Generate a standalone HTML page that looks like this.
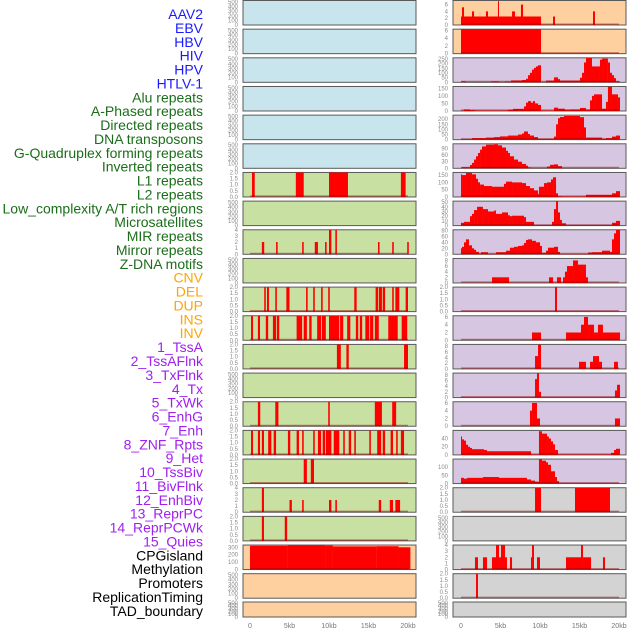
<!DOCTYPE html>
<html><head><meta charset="utf-8">
<style>
html,body{margin:0;padding:0;background:#fff;}
svg{display:block;font-family:"Liberation Sans",sans-serif;}
</style></head>
<body>
<svg id="chart" width="630" height="630" viewBox="0 0 630 630"></svg>
<script>
const labels=["AAV2","EBV","HBV","HIV","HPV","HTLV-1","Alu repeats","A-Phased repeats","Directed repeats","DNA transposons","G-Quadruplex forming repeats","Inverted repeats","L1 repeats","L2 repeats","Low_complexity A/T rich regions","Microsatellites","MIR repeats","Mirror repeats","Z-DNA motifs","CNV","DEL","DUP","INS","INV","1_TssA","2_TssAFlnk","3_TxFlnk","4_Tx","5_TxWk","6_EnhG","7_Enh","8_ZNF_Rpts","9_Het","10_TssBiv","11_BivFlnk","12_EnhBiv","13_ReprPC","14_ReprPCWk","15_Quies","CPGisland","Methylation","Promoters","ReplicationTiming","TAD_boundary"];
const labelGroups=[6,13,5,15,5];
const groupColors=["#1a1aff","#1a6e1a","#ffa500","#a020f0","#000000"];
const xTicks=[0,5,10,15,20];
const xTickLabels=["0","5kb","10kb","15kb","20kb"];

const emptyTicks=[0,100,200,300,400,500];
const t2=[0,0.5,1,1.5,2];
const t4=[0,1,2,3,4];
const t6=[0,2,4,6];
const t8=[0,2,4,6,8];

const L7=[[0.25,0.6,2],[5.8,6.8,2],[10.0,12.4,2],[19.1,19.7,2]];
const L9=[[1.5,1.8,2],[3.3,3.5,2],[6.6,6.8,2],[8.2,8.6,2],[9.5,9.7,2],[10.0,10.3,4],[10.8,11.0,4],[16.2,16.4,2],[18.0,18.2,2],[19.9,20.1,2]];
const L11=[[1.8,2.0,2],[2.15,2.4,2],[3.2,3.4,2],[4.6,5.0,2],[7.1,7.3,2],[8.0,8.2,2],[9.0,9.2,2],[9.9,10.1,2],[13.2,13.5,2],[15.9,16.2,2],[16.3,16.7,2],[16.8,17.1,2],[18.0,18.2,2],[18.4,18.9,2],[19.7,20.0,2]];
const L12=[[0.13,0.38,2],[1.0,1.27,2],[2.0,2.3,2],[2.9,3.3,2],[3.4,3.7,2],[5.9,6.6,2],[6.8,7.2,2],[7.5,7.8,2],[8.5,9.0,2],[9.1,9.6,2],[10.0,11.3,2],[11.4,11.8,2],[12.3,12.7,2],[13.4,13.7,2],[13.9,14.2,2],[14.6,15.1,2],[15.2,15.6,2],[15.8,16.3,2],[17.5,18.7,2],[19.2,19.9,2]];
const L13=[[11.0,11.5,2],[12.2,12.5,2],[19.5,20.0,2]];
const L15=[[1.0,1.3,2],[3.2,3.6,2],[9.9,10.1,2],[15.8,16.7,2],[18.0,18.5,2]];
const L16=[[0.13,0.38,2],[1.0,1.27,2],[1.5,1.77,2],[2.3,2.7,2],[3.0,3.3,2],[4.8,5.1,2],[5.9,6.2,2],[6.6,6.8,2],[8.0,8.2,2],[8.6,9.0,2],[9.2,9.5,2],[9.6,10.3,2],[10.6,11.3,2],[11.8,12.0,2],[12.5,12.8,2],[13.2,13.4,2],[15.1,15.3,2],[16.1,16.6,2],[16.8,17.1,2],[17.8,18.1,2],[18.5,18.7,2],[19.1,19.5,2]];
const L17=[[6.8,7.2,2],[7.7,8.1,2]];
const L18=[[1.5,1.77,4],[5.0,5.3,2],[6.6,6.8,2],[10.0,10.3,2],[10.8,11.0,2],[16.3,16.6,2],[17.7,18.1,2],[18.4,19.0,2]];
const L19=[[1.5,1.77,2],[4.4,4.7,2]];
const L20=[[0,4.8,320],[4.8,9.5,325],[9.5,10.5,322],[10.5,16,312],[16,18.8,314],[18.8,20.3,300]];

const R1=[[0,10.13,2.5],[0.13,0.38,5.2],[1.39,1.65,4],[3.16,3.42,4],[4.68,4.81,7],[6.46,6.84,4],[7.59,7.85,6],[11.65,11.9,2.5],[16.71,16.96,4]];
const R2=[[0,10.13,6.3]];
const R3=[[0,0.63,10],[3.8,4.81,10],[5.57,6.33,8],[6.33,7.72,20],[7.72,8.23,25],[8.23,8.48,38],[8.48,8.73,76],[8.73,8.99,102],[8.99,9.24,136],[9.24,9.49,155],[9.49,9.75,170],[9.75,10.13,182],[10.76,11.77,19],[11.77,12.28,53],[12.28,12.53,34],[12.53,15.06,19],[15.06,15.32,49],[15.32,15.57,102],[15.57,15.82,212],[15.82,16.58,265],[16.58,17.59,170],[17.59,17.85,242],[17.85,18.6,254],[18.6,18.86,212],[18.86,19.11,102],[19.11,19.37,76],[19.37,19.62,45],[19.62,20.13,11]];
const R4=[[0,0.38,3],[0.38,1.14,10],[1.14,1.77,6],[1.77,5.95,3],[5.95,6.58,8],[6.58,7.97,14],[7.97,8.23,30],[8.23,8.48,55],[8.48,8.86,65],[8.86,9.11,55],[9.11,9.37,65],[9.37,9.75,50],[9.75,10.13,40],[10.13,11.77,3],[11.77,12.28,22],[12.28,13.16,15],[13.16,13.8,8],[13.8,15.06,10],[15.06,15.82,20],[15.82,16.33,9],[16.33,16.58,70],[16.58,16.84,100],[16.84,17.85,110],[17.85,18.35,15],[18.35,18.6,60],[18.6,19.11,160],[19.11,19.87,110],[19.87,20.13,90]];
const R5=[[0,1.39,3],[1.39,3.16,15],[3.16,4.18,20],[4.18,4.94,25],[4.94,5.95,32],[5.95,7.22,40],[7.22,7.72,50],[7.72,7.97,60],[7.97,8.48,80],[8.48,8.73,55],[8.73,9.24,40],[9.24,9.75,25],[9.75,11.77,8],[11.77,12.03,30],[12.03,12.28,150],[12.28,12.53,210],[12.53,13.04,222],[13.04,15.06,232],[15.06,15.57,220],[15.57,15.82,120],[15.82,17.85,20],[17.85,18.35,8],[18.35,19.11,15],[19.11,19.62,30],[19.62,20.13,40]];
const R6=[[0,0.13,3],[0.13,1.14,5],[1.14,1.39,15],[1.39,1.65,25],[1.65,1.9,40],[1.9,2.15,55],[2.15,2.41,70],[2.41,2.66,85],[2.66,3.16,100],[3.16,4.18,108],[4.18,4.68,110],[4.68,5.19,105],[5.19,5.7,95],[5.7,5.95,80],[5.95,6.2,70],[6.2,6.71,55],[6.71,7.22,40],[7.22,7.72,30],[7.72,8.23,20],[8.23,8.48,12],[8.48,8.86,4],[10.89,11.27,8],[11.27,11.77,16],[11.77,12.28,18],[12.28,12.78,10]];
const R7=[[0,0.13,155],[0.13,0.63,150],[0.63,1.39,165],[1.39,1.9,155],[1.9,2.15,125],[2.15,2.41,100],[2.41,2.91,85],[2.91,3.92,75],[3.92,5.44,70],[5.44,5.7,90],[5.7,6.46,105],[6.46,7.72,100],[7.72,8.23,95],[8.23,8.73,75],[8.73,9.24,60],[9.24,9.75,45],[9.75,9.87,20],[9.87,10.51,70],[10.51,10.89,95],[10.89,11.39,100],[11.39,11.65,120],[11.65,12.03,135],[12.03,12.28,25],[12.28,12.78,5],[12.78,15.82,3],[15.82,19.11,15],[19.11,19.62,25],[19.62,20.13,40]];
const R8=[[0,0.38,6],[0.38,1.14,8],[1.14,1.39,20],[1.39,1.65,25],[1.65,2.03,33],[2.03,2.78,40],[2.78,3.42,35],[3.42,4.18,30],[4.18,4.43,32],[4.43,5.19,25],[5.19,5.95,28],[5.95,6.2,22],[6.2,6.46,20],[6.46,7.97,21],[7.97,8.23,18],[8.23,9.24,8],[9.24,11.52,1],[11.52,11.77,8],[11.77,12.03,35],[12.03,12.28,52],[12.28,12.53,28],[12.53,12.78,12],[12.78,13.29,5],[13.29,19.11,1],[19.11,19.62,6],[19.62,20.13,10]];
const R9=[[0,0.13,20],[0.13,0.38,25],[0.38,0.63,40],[0.63,1.01,50],[1.01,1.39,30],[1.39,1.65,20],[1.65,1.9,15],[1.9,2.28,8],[2.28,2.53,2],[2.53,3.42,7],[3.42,4.43,1],[4.43,5.7,7],[5.7,6.2,12],[6.2,6.71,22],[6.71,7.22,25],[7.22,7.72,28],[7.72,7.97,30],[7.97,8.23,38],[8.23,8.48,48],[8.48,8.99,50],[8.99,9.49,45],[9.49,10.0,40],[10.0,10.25,28],[10.25,10.76,5],[10.76,11.01,12],[11.01,11.77,22],[11.77,12.28,25],[12.28,12.53,8],[12.53,16.08,1],[16.08,16.58,6],[16.58,17.85,7],[17.85,18.86,12],[18.86,19.11,8],[19.11,19.37,50],[19.37,19.62,70],[19.62,20.13,82]];
const R10=[[3.92,6.08,2],[11.14,11.65,2],[12.15,12.66,2],[12.91,13.16,2],[13.16,13.42,4],[13.42,14.18,6],[14.18,14.81,8],[14.81,15.82,6.5],[15.82,16.08,2]];
const R11=[[11.9,12.15,2]];
const R12=[[8.99,10.13,2],[13.29,15.19,2],[15.19,15.57,4],[15.57,16.08,6],[16.08,16.84,4],[16.84,17.34,2],[17.34,17.97,4],[17.97,20.13,2]];
const R13=[[9.37,9.75,4.5],[9.75,10.13,8.5],[14.94,15.82,2.5],[16.33,16.71,2.5],[16.71,17.47,4.5],[17.47,17.85,2.5],[19.37,19.87,2.5]];
const R14=[[9.37,9.62,6.5],[9.62,9.87,8.5],[9.87,10.13,2],[19.49,19.75,2.5],[19.75,20.13,4.5]];
const R15=[[8.73,8.99,4],[8.99,9.62,6],[9.62,10.0,2],[19.49,20.13,2]];
const R16=[[0,0.13,45],[0.13,0.38,38],[0.38,0.63,35],[0.63,0.89,25],[0.89,1.14,20],[1.14,1.39,17],[1.39,2.91,14],[2.91,3.29,12],[3.29,8.86,9],[8.86,9.87,1],[9.87,10.25,58],[10.25,10.89,52],[10.89,11.14,45],[11.14,11.39,40],[11.39,11.65,33],[11.65,11.9,26],[11.9,12.28,12],[12.28,18.99,1],[18.99,19.37,5],[19.37,19.62,12],[19.62,20.13,15]];
const R17=[[0,0.38,35],[0.38,0.76,30],[0.76,2.78,35],[2.78,4.81,40],[4.81,8.35,35],[8.35,8.86,25],[8.86,9.37,18],[9.37,9.87,12],[9.87,10.25,150],[10.25,10.76,140],[10.76,11.01,130],[11.01,11.39,115],[11.39,11.9,75],[11.9,12.15,40],[12.15,12.41,15]];
const R18=[[9.37,10.13,2],[14.43,18.86,2]];
const R20=[[1.77,2.15,2],[2.78,3.29,2],[3.92,4.43,2],[4.43,4.81,4],[4.81,5.06,2],[5.06,5.57,4],[5.57,5.82,2],[6.2,6.46,2],[8.86,8.99,2],[8.99,9.24,4],[9.62,10.0,2],[13.29,15.19,2],[15.19,15.44,4],[15.44,16.46,2],[17.97,18.23,2]];
const R21=[[1.9,2.15,2]];

const BLUE="#c8e4ec",GREEN="#c8e1a3",ORANGE="#ffd09f",PURPLE="#d6c6e2",GRAY="#d3d3d3";
const leftPanels=[
[[],530,emptyTicks,BLUE],[[],530,emptyTicks,BLUE],[[],530,emptyTicks,BLUE],[[],530,emptyTicks,BLUE],[[],530,emptyTicks,BLUE],[[],530,emptyTicks,BLUE],
[L7,2,t2,GREEN],[[],530,emptyTicks,GREEN],[L9,4,t4,GREEN],[[],530,emptyTicks,GREEN],[L11,2,t2,GREEN],[L12,2,t2,GREEN],[L13,2,t2,GREEN],[[],530,emptyTicks,GREEN],[L15,2,t2,GREEN],[L16,2,t2,GREEN],[L17,2,t2,GREEN],[L18,4,t4,GREEN],[L19,2,t2,GREEN],
[L20,330,[0,100,200,300],ORANGE],[[],530,emptyTicks,ORANGE],[[],530,emptyTicks,ORANGE]];
const rightPanels=[
[R1,7.2,t6,ORANGE],[R2,6.3,t6,ORANGE],
[R3,262,[0,50,100,150,200,250],PURPLE],[R4,162,[0,50,100,150],PURPLE],[R5,240,[0,50,100,150,200],PURPLE],[R6,112,[0,30,60,90],PURPLE],[R7,168,[0,50,100,150],PURPLE],[R8,52,[0,10,20,30,40,50],PURPLE],[R9,82,[0,20,40,60,80],PURPLE],[R10,8.7,t8,PURPLE],[R11,2,t2,PURPLE],[R12,6.3,t6,PURPLE],[R13,8.6,t8,PURPLE],[R14,8.6,t8,PURPLE],[R15,6.3,t6,PURPLE],[R16,60,[0,20,40],PURPLE],[R17,150,[0,50,100],PURPLE],
[R18,2,t2,GRAY],[[],530,emptyTicks,GRAY],[R20,4,t4,GRAY],[R21,2,t2,GRAY],[[],530,emptyTicks,GRAY]];

const NS="http://www.w3.org/2000/svg";
const svg=document.getElementById('chart');
function mk(tag,attrs,parent){const e=document.createElementNS(NS,tag);for(const k in attrs)e.setAttribute(k,attrs[k]);(parent||svg).appendChild(e);return e;}

let gi=0,cnt=0;
labels.forEach((t,i)=>{
  while(cnt>=labelGroups[gi]){cnt-=labelGroups[gi];gi++;}
  cnt++;
  const e=mk('text',{x:203,y:14+i*13.88+5,'text-anchor':'end','font-size':14,fill:groupColors[gi]});
  e.textContent=t;
  
  
});

const KB=7.9;
function rowTop(k){return k<21?0.5+k*28.66:602;}
function rowH(k){return k<21?24.5:15;}
function fmt(v,ticks){const dec=ticks.some(t=>t%1!==0);return dec?v.toFixed(1):String(v);}

function drawCol(panels,x0,left,right,colName){
  panels.forEach((p,k)=>{
    const [segs,ymax,ticks,bg]=p;
    const top=rowTop(k),h=rowH(k),bot=top+h;
    const g=mk('g',{});
    
    
    const r=mk('rect',{x:left,y:top,width:right-left,height:h,fill:bg,stroke:'#5a5a5a','stroke-width':1},g);
    
    
    const xs=kb=>x0+kb*KB, ys=v=>bot-v/ymax*h;
    segs.forEach(s=>{
      const b=mk('rect',{x:xs(s[0]),y:ys(s[2]),width:Math.max(0.8,xs(s[1])-xs(s[0])),height:bot-ys(s[2]),fill:'#ff0000'},g);
      
      
    });
    if(segs.length){
      const bl=mk('line',{x1:xs(0),x2:xs(20),y1:bot-0.8,y2:bot-0.8,stroke:'rgba(139,0,0,0.45)','stroke-width':1.5},g);
      
      
    }
    ticks.forEach(t=>{
      const tx=mk('text',{x:left-5,y:ys(t)+2,'text-anchor':'end','font-size':6,fill:'#8a8a8a'},g);
      tx.textContent=fmt(t,ticks);
      
      
    });
  });
  xTicks.forEach((t,i)=>{
    const tx=mk('text',{x:x0+t*KB,y:628,'text-anchor':'middle','font-size':7,fill:'#777'});
    tx.textContent=xTickLabels[i];
    
    
  });
}
drawCol(leftPanels,250,243,416,'left');
drawCol(rightPanels,461,453,626,'right');
</script>
</body></html>
